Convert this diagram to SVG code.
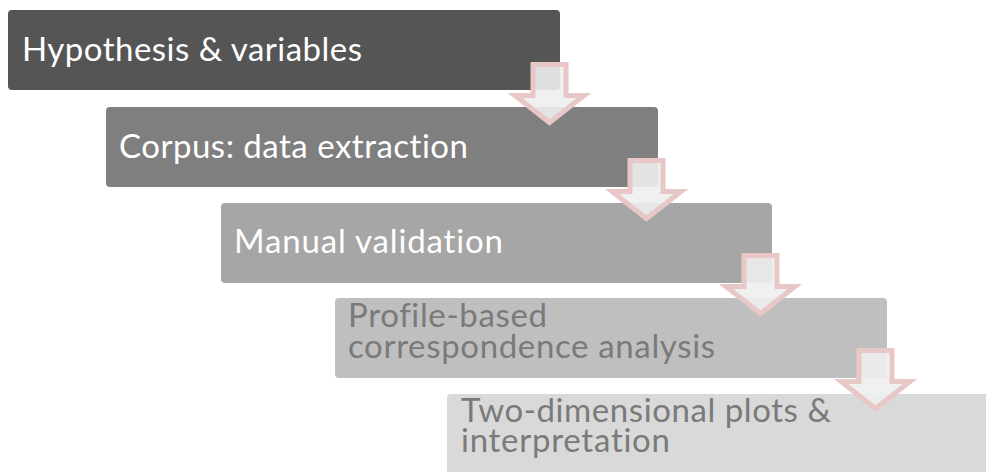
<svg xmlns="http://www.w3.org/2000/svg" width="986" height="472" viewBox="0 0 986 472">
  <defs>
    <style>
      .box { stroke: none; }
      .t { font-family: Lato, "Open Sans", "Liberation Sans", sans-serif; font-size: 33px; font-variant-ligatures: none; }
      .tw { fill: #ffffff; }
      .tg { fill: #7a7a7a; }
      .arrow { fill: #eeeeee; fill-opacity: 0.9; stroke: #e8c7c7; stroke-width: 5; stroke-linejoin: miter; }
    </style>
  </defs>
  <rect x="0" y="0" width="986" height="472" fill="#ffffff"/>
  <g id="node1">
    <rect class="box" x="8" y="10" width="552" height="80" rx="4" fill="#555555"/>
    <text class="t tw" x="22" y="61" textLength="340">Hypothesis &amp; variables</text>
  </g>
  <g id="node2">
    <rect class="box" x="106" y="107" width="552" height="80" rx="4" fill="#7f7f7f"/>
    <text class="t tw" x="119" y="158" textLength="349">Corpus: data extraction</text>
  </g>
  <g id="node3">
    <rect class="box" x="221" y="203" width="551" height="80" rx="4" fill="#a6a6a6"/>
    <text class="t tw" x="234" y="253" textLength="269">Manual validation</text>
  </g>
  <g id="node4">
    <rect class="box" x="335" y="298" width="552" height="80" rx="4" fill="#bfbfbf"/>
    <text class="t tg" x="348" y="327" textLength="199">Profile-based</text>
    <text class="t tg" x="348" y="358" textLength="367">correspondence analysis</text>
  </g>
  <g id="node5">
    <rect class="box" x="447" y="394" width="552" height="90" rx="4" fill="#d9d9d9"/>
    <text class="t tg" x="461" y="422" textLength="370">Two-dimensional plots &amp;</text>
    <text class="t tg" x="461" y="452" textLength="209">interpretation</text>
  </g>
  <g id="connectors">
    <path class="arrow" d="M533,64.5 L566,64.5 L566,95.5 L584,95.5 L549.5,122.5 L515,95.5 L533,95.5 Z"/>
    <path class="arrow" d="M630,160.5 L663,160.5 L663,191.5 L681,191.5 L646.5,218.5 L612,191.5 L630,191.5 Z"/>
    <path class="arrow" d="M744,255.5 L777,255.5 L777,286.5 L795,286.5 L760.5,313.5 L726,286.5 L744,286.5 Z"/>
    <path class="arrow" d="M859,350.5 L892,350.5 L892,381.5 L910,381.5 L875.5,408.5 L841,381.5 L859,381.5 Z"/>
  </g>
</svg>
